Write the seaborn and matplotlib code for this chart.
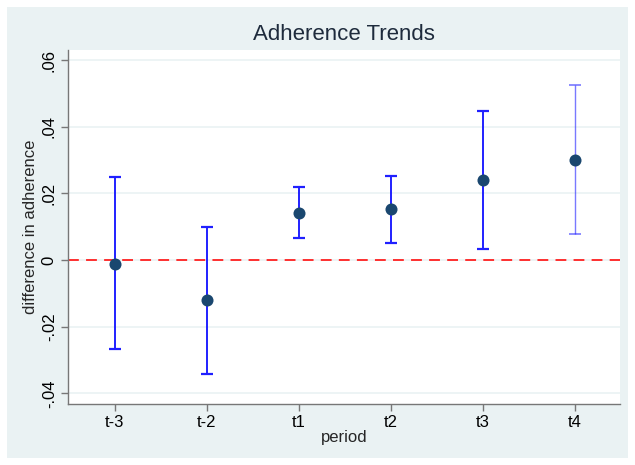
import matplotlib as mpl
import matplotlib.pyplot as plt
import seaborn as sns
import pandas as pd
import numpy as np

periods = ['t-3', 't-2', 't1', 't2', 't3', 't4']
estimate = [-0.0011, -0.0120, 0.0141, 0.0153, 0.0240, 0.0300]
ci_low = [-0.0268, -0.0342, 0.0066, 0.0051, 0.0033, 0.0078]
ci_high = [0.0249, 0.0100, 0.0219, 0.0252, 0.0447, 0.0526]
bar_alpha = [1, 1, 1, 1, 1, 0.6]
bar_width = [1.4, 1.4, 1.4, 1.4, 1.4, 1.0]

sns.set_theme(style='white')
mpl.rcParams['font.family'] = ['Liberation Sans', 'DejaVu Sans']

df = pd.DataFrame({'period': periods, 'est': estimate, 'lo': ci_low, 'hi': ci_high})
df['pos'] = np.arange(len(df))

bg = '#eaf2f3'
fig = plt.figure(figsize=(6.35, 4.65), dpi=100, facecolor=bg)
fig.patch.set_edgecolor('white')
fig.patch.set_linewidth(10)
ax = fig.add_axes([0.107, 0.131, 0.869, 0.761])
ax.set_facecolor('white')

# reference line at zero
ax.axhline(0, color='#ff2020', lw=1.3, ls=(0, (6, 4)), zorder=1)

# confidence intervals
for i, r in df.iterrows():
    ax.errorbar(r['pos'], r['est'], yerr=[[r['est'] - r['lo']], [r['hi'] - r['est']]],
                fmt='none', ecolor='#2020ff', elinewidth=bar_width[i], capsize=4,
                capthick=bar_width[i] + 0.2, alpha=bar_alpha[i], zorder=2)

sns.scatterplot(data=df, x='pos', y='est', ax=ax, color='#1a476f', s=75,
                edgecolor='#1a476f', linewidth=0, zorder=3)

ax.set_xlim(-0.51, 5.49)
ax.set_ylim(-0.0432, 0.063)
ax.set_xticks(df['pos'], periods)
yt = [-0.04, -0.02, 0, 0.02, 0.04, 0.06]
ax.set_yticks(yt, ['-.04', '-.02', '0', '.02', '.04', '.06'])
ax.yaxis.grid(True, color=bg, lw=1.2)
ax.set_axisbelow(True)

for s in ['top', 'right']:
    ax.spines[s].set_visible(False)
for s in ['left', 'bottom']:
    ax.spines[s].set_color('#777777')
    ax.spines[s].set_linewidth(1.0)
ax.tick_params(axis='both', direction='out', length=5, width=1, color='#777777',
               labelsize=12, labelcolor='black', bottom=True, left=True, pad=3)
plt.setp(ax.get_yticklabels(), rotation=90, va='center')

ax.set_xlabel('period', fontsize=12, labelpad=0)
ax.set_ylabel('difference in adherence', fontsize=12, labelpad=3)
ax.set_title('Adherence Trends', fontsize=16, color='#1e2b3c', pad=7)

plt.savefig('out.png', dpi=100, facecolor=fig.get_facecolor(), edgecolor='white')
